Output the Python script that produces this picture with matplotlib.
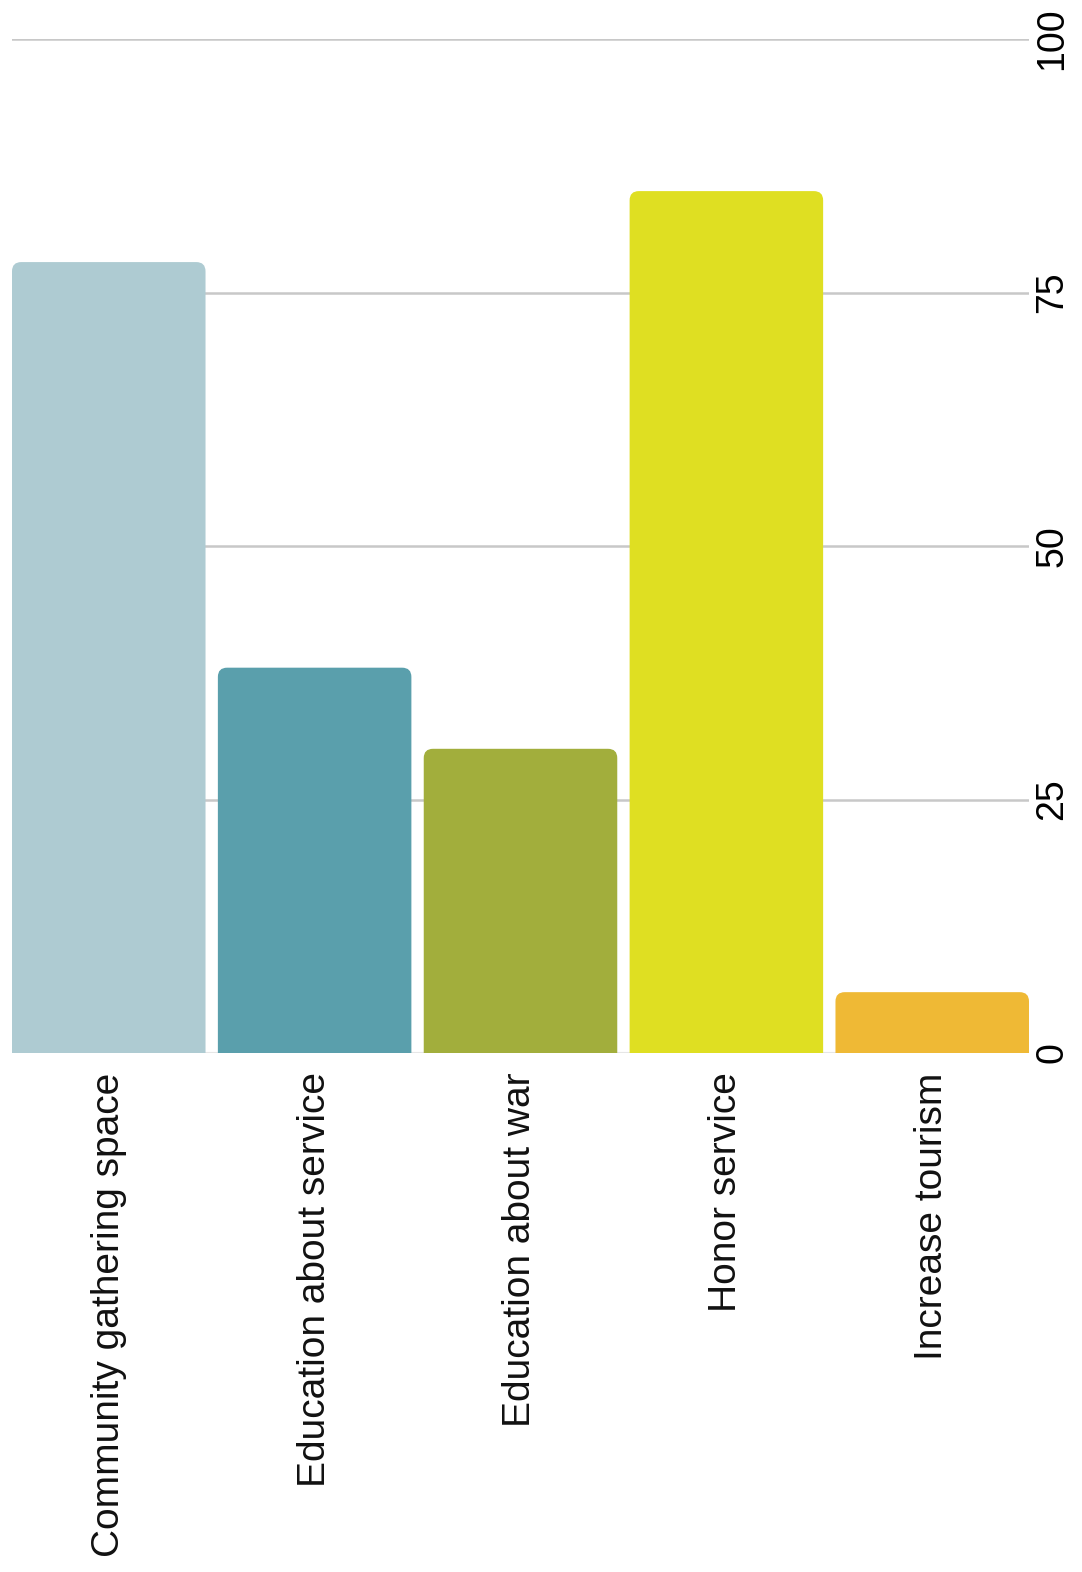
#!/usr/bin/env python3

import matplotlib.pyplot as plt
from matplotlib.patches import FancyBboxPatch

CATEGORIES = [
    "Community gathering space",
    "Education about service",
    "Education about war",
    "Honor service",
    "Increase tourism",
]
VALUES = [78, 38, 30, 85, 6]
COLORS = ["#aecbd2", "#5a9fac", "#a2ae3c", "#dfdf22", "#efb935"]
Y_TICKS = [0, 25, 50, 75, 100]

plt.rcParams["font.family"] = ["Liberation Sans", "DejaVu Sans"]

fig = plt.figure(figsize=(10.82, 15.72), dpi=100)
ax = fig.add_axes([12 / 1082, 1 - 1053 / 1572, 1017 / 1082, 1014 / 1572])

xpos = list(range(len(CATEGORIES)))
bars = ax.bar(xpos, VALUES, width=0.94, color=COLORS, zorder=2)

# swap plain rectangles for ones with rounded top corners
for rect, color in zip(bars, COLORS):
    rect.set_visible(False)
    x0, w, h = rect.get_x(), rect.get_width(), rect.get_height()
    rounded = FancyBboxPatch(
        (x0, -3), w, h + 3,
        boxstyle="round,pad=0,rounding_size=0.045",
        mutation_aspect=20.2,
        facecolor=color, edgecolor="none", zorder=2,
    )
    ax.add_patch(rounded)

ax.set_xlim(-0.47, 4.47)
ax.set_ylim(0, 100)
ax.set_yticks(Y_TICKS)
ax.yaxis.tick_right()
ax.tick_params(axis="y", length=0, pad=4, labelsize=27, labelrotation=90)
for lbl in ax.get_yticklabels():
    lbl.set_verticalalignment("center")
ax.grid(axis="y", color="#c8c8c8", linewidth=1.8, zorder=0)
ax.set_axisbelow(True)

ax.set_xticks(xpos)
ax.set_xticklabels(CATEGORIES, rotation=90, fontsize=28, color="#111111")
ax.tick_params(axis="x", length=0, pad=14)

for spine in ax.spines.values():
    spine.set_visible(False)
ax.axhline(0, color="#e6e6e6", linewidth=1.5, zorder=1)

fig.savefig("out.png", dpi=100, facecolor="white")
